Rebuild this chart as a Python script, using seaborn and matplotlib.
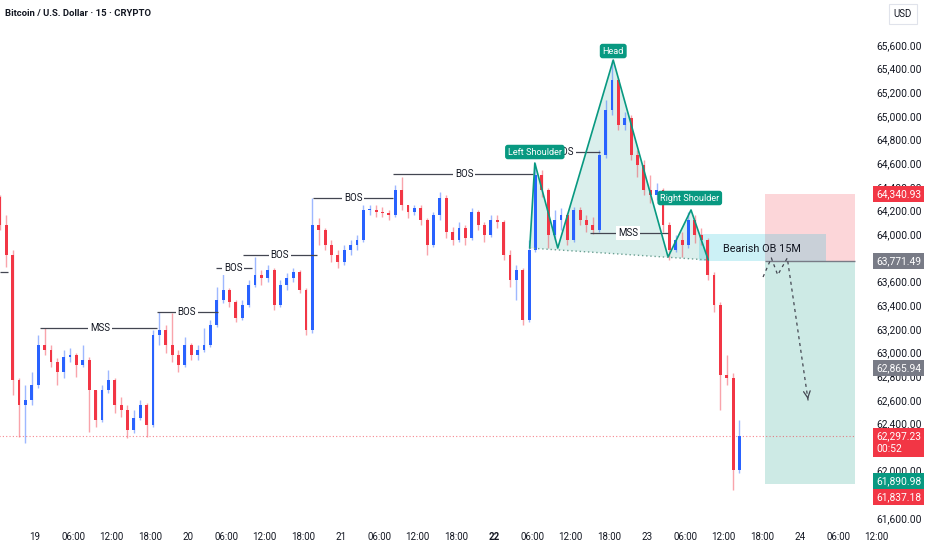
import matplotlib
matplotlib.use("Agg")
import matplotlib.pyplot as plt
import matplotlib.transforms as mtransforms
from matplotlib.patches import Rectangle, Polygon
import numpy as np
import pandas as pd
import seaborn as sns

# ---------------- data ----------------
# hourly candles, hour 0 = the "19" tick, first candle opens at 18th 18:00
start_hour = -6
first_open = 64315
closes = [64078, 63824, 62767, 62556, 62598, 62725,
          63063, 63021, 62919, 62835, 62962, 62979, 62894, 62936, 62682, 62429, 62682, 62767,
          62556, 62513, 62344, 62446, 62556, 62387, 63148, 63190, 63063, 62979, 62894, 63063,
          62979, 63021, 63063, 63232, 63444, 63528, 63427, 63291, 63401, 63570, 63655, 63630,
          63697, 63401, 63570, 63630, 63681, 63528, 63190, 64078, 64036, 63909, 63824, 63765,
          63866, 63909, 63951, 64205, 64205, 64188, 64179, 64162, 64374, 64247, 64188, 64222,
          64120, 63909, 64162, 64306, 64019, 63951, 64052, 63968, 64188, 64078, 63993, 64120,
          64103, 63824, 63613, 63697, 63274, 63866, 64501, 64374, 63993, 64120, 64162, 63951,
          64205, 64120, 64078, 64036, 64670, 65050, 65304, 64924, 64983, 64670, 64585, 64374,
          64332, 64374, 64078, 63866, 63951, 63909, 64120, 63993, 63951, 63655, 63401, 62809,
          62784, 62006, 62297]
highs = [64332, 64162, 63866, 62784, 62725, 62835,
         63148, 63207, 63063, 62953, 63021, 63038, 62995, 63063, 62962, 62682, 62725, 62852,
         62784, 62623, 62556, 62513, 62598, 62572, 63190, 63342, 63232, 63334, 63021, 63131,
         63080, 63063, 63207, 63274, 63554, 63714, 63545, 63444, 63444, 63613, 63807, 63697,
         63740, 63714, 63613, 63672, 63714, 63697, 63545, 64306, 64137, 64052, 63951, 63866,
         63909, 63951, 63993, 64247, 64247, 64247, 64230, 64205, 64416, 64484, 64247, 64247,
         64247, 64137, 64188, 64357, 64332, 64061, 64103, 64078, 64222, 64205, 64103, 64162,
         64162, 64120, 63866, 63740, 63714, 63951, 64602, 64543, 64391, 64205, 64222, 64179,
         64230, 64230, 64162, 64145, 64712, 65135, 65473, 65321, 65033, 65008, 64712, 64627,
         64501, 64433, 64391, 64103, 63993, 64019, 64188, 64162, 64052, 63968, 63681, 63427,
         62979, 62826, 62429]
lows = [64036, 63723, 62640, 62285, 62234, 62556,
        62700, 62979, 62877, 62725, 62784, 62919, 62792, 62877, 62327, 62370, 62411, 62657,
        62488, 62454, 62277, 62319, 62429, 62285, 62370, 63063, 62995, 62919, 62835, 62877,
        62936, 62936, 63004, 63046, 63215, 63418, 63384, 63257, 63274, 63384, 63554, 63570,
        63596, 63359, 63384, 63528, 63596, 63503, 63148, 63165, 63909, 63866, 63765, 63714,
        63740, 63824, 63866, 63934, 64162, 64145, 64145, 64120, 64145, 64205, 64137, 64162,
        64078, 63824, 63892, 64120, 63968, 63909, 63934, 63909, 63951, 64036, 63934, 63976,
        64052, 63782, 63554, 63444, 63232, 63257, 63849, 64315, 63883, 63951, 64036, 63909,
        63934, 64078, 64019, 64002, 64019, 64644, 65008, 64881, 64881, 64627, 64484, 64332,
        64264, 64289, 64019, 63782, 63849, 63807, 63883, 63926, 63909, 63613, 63342, 62513,
        62725, 61837, 61981]

# market structure levels
level_labels = ["", "MSS", "BOS", "BOS", "BOS", "BOS", "BOS", "BOS", "MSS"]
level_start = [-5.5, 0.8, 19.1, 28.4, 32.6, 43.6, 56.2, 80.0, 87.0]
level_end = [-4.2, 19.1, 28.7, 34.0, 44.2, 56.2, 78.1, 88.6, 99.3]
level_price = [63681, 63207, 63342, 63714, 63820, 64306, 64509, 64695, 64010]
level_text_hour = [None, 10.2, 23.8, 31.1, 38.4, 49.9, 67.3, 83.1, 93.0]

# head & shoulders
hs_hours = [77.6, 78.4, 82.0, 90.7, 99.3, 102.9, 105.6]
hs_prices = [63883, 64602, 63883, 65473, 63807, 64205, 63782]
hs_names = ["Left Shoulder", "Head", "Right Shoulder"]
hs_name_hours = [78.4, 90.7, 102.7]
hs_name_prices = [64695, 65549, 64306]

# short position + order block
entry_price = 63771.49
stop_price = 64340.93
target_price = 61890.98
trade_start, trade_end = 114.5, 128.6
ob_start, ob_end = 104.2, 124.1
ob_low, ob_high = 63771.49, 64000
ob_text = "Bearish OB 15M"
ob_text_hour, ob_text_price = 114.1, 63875
path_hours = [114.2, 115.5, 116.5, 118.0, 121.3]
path_prices = [63638, 63799, 63655, 63799, 62581]

last_price = 62297.23
countdown = "00:52"
day_low = 61837.18
prev_close = 62865.94

tick_hours = list(range(0, 133, 6))
tick_labels = ["19", "06:00", "12:00", "18:00", "20", "06:00", "12:00", "18:00",
               "21", "06:00", "12:00", "18:00", "22", "06:00", "12:00", "18:00",
               "23", "06:00", "12:00", "18:00", "24", "06:00", "12:00"]
price_ticks = [61600, 62000, 62400, 62600, 62800, 63000, 63200, 63400, 63600,
               64000, 64200, 64400, 64600, 64800, 65000, 65200, 65400, 65600]

UP = "#2962ff"
DOWN = "#f23645"
TEAL = "#089981"
GREY = "#787b86"
INK = "#131722"

# ---------------- figure ----------------
sns.set_theme(style="white")
plt.rcParams['font.family'] = ['Roboto', 'DejaVu Sans']

fig = plt.figure(figsize=(9.32, 5.5), dpi=100)
ax = fig.add_axes([0, 25 / 550, 1, 525 / 550])
ax.set_xlim(-5.49, 140.7)
ax.set_ylim(61540.7, 65980.6)
for s in ax.spines.values():
    s.set_visible(False)
ax.grid(False)

# candles
opens = [first_open] + closes[:-1]
df = pd.DataFrame({"hour": np.arange(start_hour, start_hour + len(closes)) + 0.5,
                   "open": opens, "high": highs, "low": lows, "close": closes})
df["color"] = np.where(df["close"] >= df["open"], UP, DOWN)
ax.vlines(df["hour"], df["low"], df["high"], colors=df["color"], lw=1, alpha=0.45, zorder=3)
body = (df["close"] - df["open"]).abs().clip(lower=10)
ax.bar(df["hour"], body, bottom=df[["open", "close"]].min(axis=1), width=0.45,
       color=df["color"], linewidth=0, zorder=4)

# last price dotted line
ax.hlines(last_price, -6, trade_end, colors=DOWN, lw=0.8, linestyles=(0, (1, 2)), alpha=0.6, zorder=2)

# structure levels
for lab, x0, x1, p, xt in zip(level_labels, level_start, level_end, level_price, level_text_hour):
    ax.hlines(p, x0, x1, colors="#434651", lw=0.9, zorder=5)
    if lab:
        ax.text(xt, p, lab, ha="center", va="center", fontsize=7, color=INK, zorder=6,
                bbox=dict(boxstyle="square,pad=0.2", fc="white", ec="none"))

# head & shoulders
ax.add_patch(Polygon(list(zip(hs_hours, hs_prices)), closed=True, fc=TEAL, alpha=0.15, ec="none", zorder=1))
hs_df = pd.DataFrame({"hour": hs_hours, "price": hs_prices})
sns.lineplot(data=hs_df, x="hour", y="price", sort=False, color=TEAL, lw=1.2, ax=ax, zorder=5)
ax.plot([hs_hours[0], hs_hours[-1]], [hs_prices[0], hs_prices[-1]], color="#6a9f92",
        lw=1, ls=(0, (1, 2)), zorder=5)
for name, xh, p in zip(hs_names, hs_name_hours, hs_name_prices):
    ax.text(xh, p, name, ha="center", va="center", fontsize=6.6, color="white", zorder=8,
            bbox=dict(boxstyle="round,pad=0.3,rounding_size=0.3", fc=TEAL, ec="none"))

# position tool
ax.add_patch(Rectangle((trade_start, entry_price), trade_end - trade_start, stop_price - entry_price,
                       fc=DOWN, alpha=0.2, ec="none", zorder=1))
ax.add_patch(Rectangle((trade_start, target_price), trade_end - trade_start, entry_price - target_price,
                       fc=TEAL, alpha=0.2, ec="none", zorder=1))
ax.hlines(entry_price, trade_start, trade_end, colors=GREY, lw=1, zorder=2)

# order block
ax.add_patch(Rectangle((ob_start, ob_low), ob_end - ob_start, ob_high - ob_low,
                       fc="#00bcd4", alpha=0.2, ec="none", zorder=2))
ax.text(ob_text_hour, ob_text_price, ob_text, ha="center", va="center", fontsize=7.8, color=INK, zorder=6)

# projected path
ax.plot(path_hours, path_prices, color="#434651", lw=0.9, ls=(0, (2.5, 3)), zorder=6)
ax.annotate("", xy=(path_hours[-1], path_prices[-1]), xytext=(path_hours[-1] - 0.15, path_prices[-1] + 60),
            arrowprops=dict(arrowstyle="->", color="#434651", lw=0.9), zorder=6)

# axes ticks
ax.set_xticks(tick_hours)
ax.set_xticklabels(tick_labels)
ax.get_xticklabels()[12].set_fontweight("bold")
ax.tick_params(axis="x", length=0, pad=5, labelsize=7, labelcolor=INK)
ax.yaxis.tick_right()
ax.set_yticks(price_ticks)
ax.set_yticklabels([f"{p:,.2f}" for p in price_ticks])
ax.tick_params(axis="y", length=0, pad=-40.3, labelsize=7.4, labelcolor=INK)
ax.set_xlabel("")
ax.set_ylabel("")

# price scale tags
trans = mtransforms.blended_transform_factory(ax.transAxes, ax.transData)
tags = [(stop_price, f"{stop_price:,.2f}", DOWN, 0),
        (entry_price, f"{entry_price:,.2f}", GREY, 0),
        (prev_close, f"{prev_close:,.2f}", GREY, 0),
        (last_price, f"{last_price:,.2f}\n{countdown}", DOWN, -5),
        (target_price, f"{target_price:,.2f}", TEAL, 2),
        (day_low, f"{day_low:,.2f}", DOWN, -5)]
for p, txt, c, dy in tags:
    ax.annotate(txt, xy=(876 / 932, p), xycoords=trans, xytext=(0, dy), textcoords="offset points",
                ha="left", va="center", fontsize=7.4, color="white", linespacing=1.3,
                annotation_clip=False, zorder=10,
                bbox=dict(boxstyle="square,pad=0.3", fc=c, ec="none"))

fig.text(5 / 932, 1 - 13 / 550, "Bitcoin / U.S. Dollar · 15 · CRYPTO", fontsize=6.8,
         fontweight="semibold", color=INK, va="center", ha="left")
fig.text(903 / 932, 1 - 14 / 550, "USD", fontsize=7, color=INK, va="center", ha="center",
         bbox=dict(boxstyle="square,pad=0.5", fc="white", ec="#e0e3eb", lw=0.8))

fig.savefig("out.png", dpi=100, facecolor="white")
